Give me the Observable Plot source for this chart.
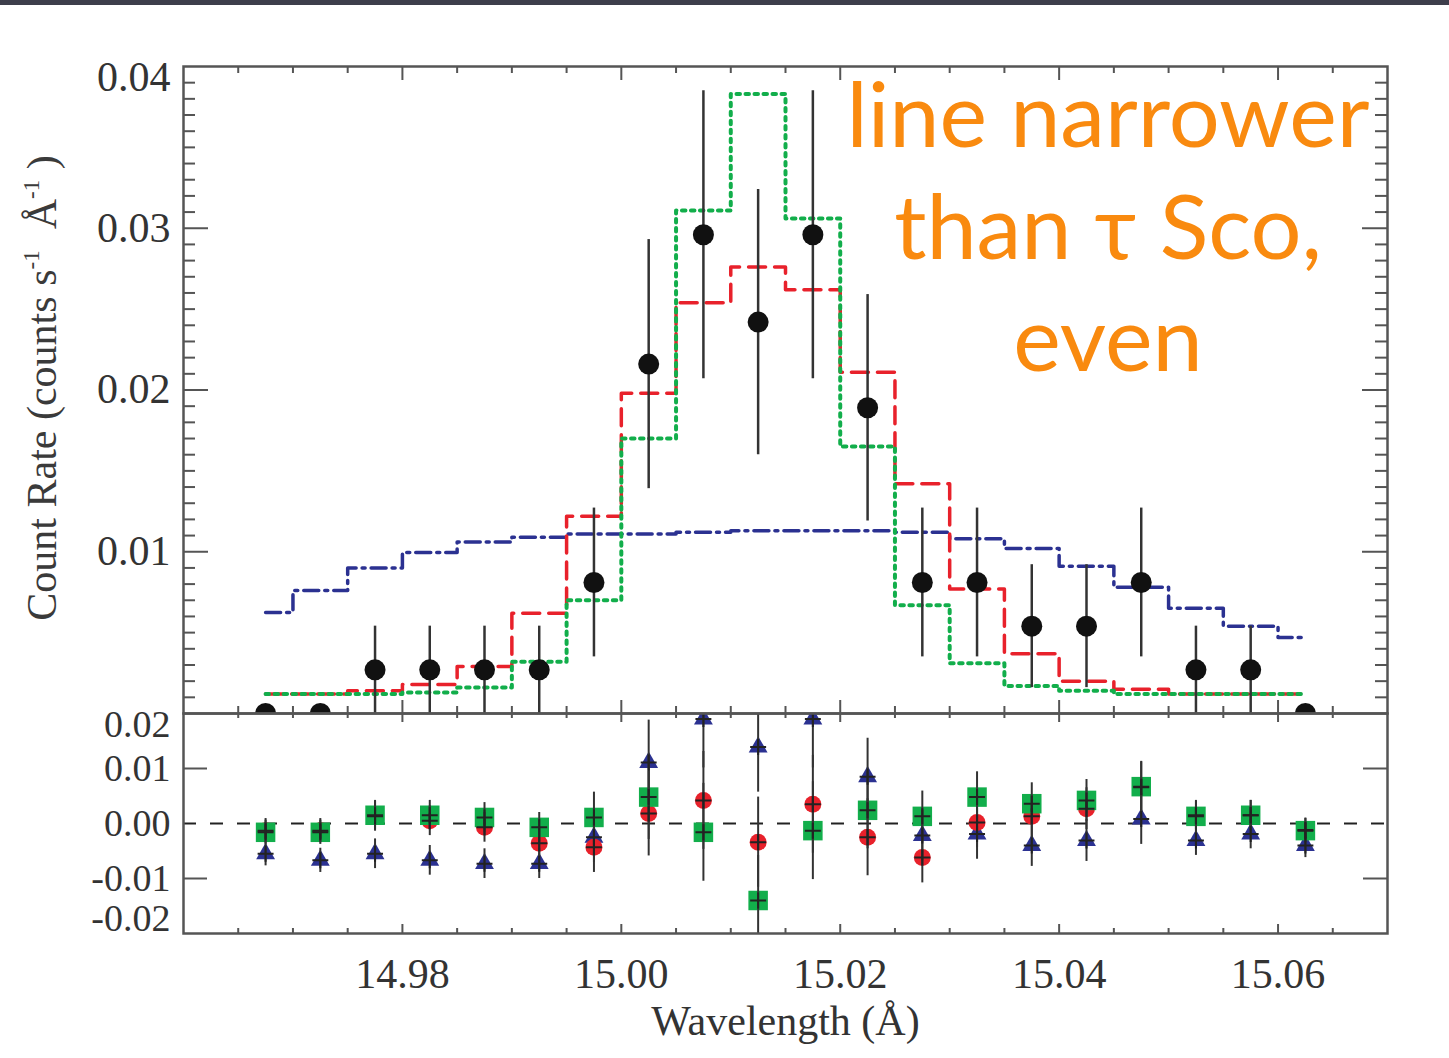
<!DOCTYPE html>
<html>
<head>
<meta charset="utf-8">
<script src="https://cdn.jsdelivr.net/npm/d3@7"></script>
<script src="https://cdn.jsdelivr.net/npm/@observablehq/plot@0.6"></script>
<style>
  body { margin: 0; background: #fff; }
  #wrap { position: relative; width: 1449px; height: 1058px; overflow: hidden; background: #fff; }
  #bar { position: absolute; left: 0; top: 0; width: 1449px; height: 5px; background: #3d3e4b; z-index: 5; }
  #top, #bot { position: absolute; left: 0; }
  #top { top: 0; }
  #bot { top: 700px; }
  #ylab { position: absolute; left: 42px; top: 388px; transform: translate(-50%, -50%) rotate(-90deg);
          white-space: nowrap; font-family: "Liberation Serif", serif; font-size: 42px; color: #3a3a3a; }
  #ylab sup { font-size: 23px; vertical-align: 17px; }
  #note { position: absolute; left: 838px; top: 56px; width: 540px; text-align: center;
          font-family: Lato, "Open Sans", sans-serif; font-size: 90px; line-height: 112px; color: #f98a0f; z-index: 4; }
</style>
</head>
<body>
<div id="wrap">
  <div id="bar"></div>
  <div id="top"></div>
  <div id="bot"></div>
  <div id="ylab">Count Rate (counts s<sup>-1</sup>&nbsp; Å<sup>-1</sup> )</div>
  <div id="note">line narrower<br>than τ Sco,<br>even</div>
</div>
<script>
// ---- data ----
const wavelength = [14.9675, 14.9725, 14.9775, 14.9825, 14.9875, 14.9925, 14.9975, 15.0025, 15.0075, 15.0125,
                    15.0175, 15.0225, 15.0275, 15.0325, 15.0375, 15.0425, 15.0475, 15.0525, 15.0575, 15.0625];
const countRate = [0, 0, 0.0027, 0.0027, 0.0027, 0.0027, 0.0081, 0.0216, 0.0296, 0.0242,
                   0.0296, 0.0189, 0.0081, 0.0081, 0.0054, 0.0054, 0.0081, 0.0027, 0.0027, 0];
const countErr = [0.0022, 0.0022, 0.0027, 0.0027, 0.0027, 0.0027, 0.0046, 0.0077, 0.0089, 0.0082,
                  0.0089, 0.0070, 0.0046, 0.0046, 0.0038, 0.0038, 0.0046, 0.0027, 0.0027, 0.0022];
const modelBlue = [0.00625, 0.0076, 0.0090, 0.00995, 0.0106, 0.0109, 0.0111, 0.0111, 0.0112, 0.0113,
                   0.0113, 0.0113, 0.0112, 0.0108, 0.0102, 0.0091, 0.0078, 0.0065, 0.0054, 0.0047];
const modelRed = [0.0012, 0.0012, 0.0014, 0.0018, 0.0029, 0.0062, 0.0122, 0.0198, 0.0254, 0.0276,
                  0.0262, 0.0211, 0.0142, 0.0077, 0.0037, 0.0020, 0.0015, 0.0012, 0.0012, 0.0012];
const modelGreen = [0.0012, 0.0012, 0.0012, 0.0013, 0.0016, 0.0032, 0.0070, 0.0170, 0.0311, 0.0383,
                    0.0306, 0.0165, 0.0067, 0.0031, 0.0017, 0.0014, 0.0012, 0.0012, 0.0012, 0.0012];
const residBlue = [-0.0055, -0.0067, -0.0055, -0.0067, -0.0073, -0.0073, -0.0025, 0.0111, 0.0190, 0.0139,
                   0.0190, 0.0085, -0.0022, -0.0019, -0.0040, -0.0031, 0.0008, -0.0031, -0.0019, -0.0040];
const residRed = [-0.0013, -0.0013, 0.0013, 0.0005, -0.0007, -0.0036, -0.0043, 0.0018, 0.0042, -0.0034,
                  0.0035, -0.0025, -0.0062, 0.0002, 0.0013, 0.0027, 0.0066, 0.0015, 0.0015, -0.0012];
const residGreen = [-0.0016, -0.0016, 0.0015, 0.0015, 0.0011, -0.0007, 0.0011, 0.0048, -0.0016, -0.0140,
                    -0.0013, 0.0024, 0.0013, 0.0048, 0.0036, 0.0042, 0.0067, 0.0013, 0.0015, -0.0013];

const xMajorTicks = [14.98, 15.00, 15.02, 15.04, 15.06];
const xMinorTicks = [14.965, 14.97, 14.975, 14.985, 14.99, 14.995, 15.005, 15.01, 15.015, 15.025,
                     15.03, 15.035, 15.045, 15.05, 15.055, 15.065];
const yTopMajor = [0.01, 0.02, 0.03];
const yTopLabels = [0.01, 0.02, 0.03];
const yTopEdgeLabel = [0.04];
const yResMajor = [0.01, -0.01];
const yResLabels = [0.01, 0.00, -0.01];
const yResTopLabel = [0.02];
const yResBottomLabel = [-0.02];
const xLabel = "Wavelength (Å)";

// ---- derived tables ----
const rows = wavelength.map((w, i) => ({w, c: countRate[i], e: countErr[i],
  blue: modelBlue[i], red: modelRed[i], green: modelGreen[i]}));
const yTopMinor = d3.range(1, 40).map(d => d / 1000).filter(d => Math.round(d * 1000) % 10 !== 0);
const res = (arr) => wavelength.map((w, i) => ({w, r: arr[i], e: countErr[i]}));
const resAll = [...res(residBlue), ...res(residRed), ...res(residGreen)];

const W = 1449, ML = 183, MR = 62;
const PW = W - ML - MR;
const xDomain = [14.96, 15.07];
const tickCol = "#555";
const font = {fontFamily: "'Liberation Serif', serif", fontSize: "42px", color: "#333", background: "transparent", overflow: "visible"};
const BLUE = "#2b3191", RED = "#e8212b", GREEN = "#12ae4b";

// ---- top panel ----
const TH = 720, TMT = 66, TMB = 7, TPH = TH - TMT - TMB;
const topPlot = Plot.plot({
  width: W, height: TH, marginLeft: ML, marginRight: MR, marginTop: TMT, marginBottom: TMB,
  style: font,
  x: {domain: xDomain, axis: null},
  y: {domain: [0, 0.04], axis: null},
  marks: [
    // ticks
    Plot.tickY(yTopMajor, {y: d => d, insetRight: PW - 25, stroke: tickCol, strokeWidth: 2}),
    Plot.tickY(yTopMajor, {y: d => d, insetLeft: PW - 25, stroke: tickCol, strokeWidth: 2}),
    Plot.tickY(yTopMinor, {y: d => d, insetRight: PW - 12, stroke: tickCol, strokeWidth: 2}),
    Plot.tickY(yTopMinor, {y: d => d, insetLeft: PW - 12, stroke: tickCol, strokeWidth: 2}),
    Plot.tickX(xMajorTicks, {x: d => d, insetBottom: TPH - 14, stroke: tickCol, strokeWidth: 2}),
    Plot.tickX(xMinorTicks, {x: d => d, insetBottom: TPH - 7, stroke: tickCol, strokeWidth: 2}),
    Plot.tickX(xMajorTicks, {x: d => d, insetTop: TPH - 13, stroke: tickCol, strokeWidth: 2}),
    Plot.tickX(xMinorTicks, {x: d => d, insetTop: TPH - 7, stroke: tickCol, strokeWidth: 2}),
    // models
    Plot.line(rows, {x: "w", y: "blue", curve: "step", stroke: BLUE, strokeWidth: 3.5, strokeDasharray: "15,6,3,6"}),
    Plot.line(rows, {x: "w", y: "red", curve: "step", stroke: RED, strokeWidth: 3.5, strokeDasharray: "17,9"}),
    Plot.line(rows, {x: "w", y: "green", curve: "step", stroke: GREEN, strokeWidth: 4, strokeDasharray: "3.5,5.5"}),
    // data
    Plot.ruleX(rows.filter(d => d.c > 0), {x: "w", y1: d => d.c - d.e, y2: d => d.c + d.e, stroke: "#333", strokeWidth: 2.5}),
    Plot.dot(rows, {x: "w", y: "c", r: 10.5, fill: "#111", stroke: "none", clip: true}),
    Plot.frame({stroke: tickCol, strokeWidth: 2.5}),
    // labels
    Plot.text(yTopLabels, {y: d => d, frameAnchor: "left", dx: -13, textAnchor: "end", text: d => d.toFixed(2)}),
    Plot.text(yTopEdgeLabel, {y: d => d, frameAnchor: "left", dx: -13, dy: 11, textAnchor: "end", text: d => d.toFixed(2)})
  ]
});
document.getElementById("top").appendChild(topPlot);

// ---- residual panel ----
const BH = 358, BMT = 13, BMB = 125, BPH = BH - BMT - BMB;
const fmt = d => (d < 0 ? "-" : "") + Math.abs(d).toFixed(2);
const botPlot = Plot.plot({
  width: W, height: BH, marginLeft: ML, marginRight: MR, marginTop: BMT, marginBottom: BMB,
  style: font,
  x: {domain: xDomain, axis: null},
  y: {domain: [-0.02, 0.02], axis: null},
  marks: [
    Plot.ruleY([0], {stroke: "#222", strokeWidth: 2, strokeDasharray: "13,14"}),
    Plot.tickY(yResMajor, {y: d => d, insetRight: PW - 24, stroke: tickCol, strokeWidth: 2}),
    Plot.tickY(yResMajor, {y: d => d, insetLeft: PW - 24, stroke: tickCol, strokeWidth: 2}),
    Plot.tickX(xMajorTicks, {x: d => d, insetBottom: BPH - 9, stroke: tickCol, strokeWidth: 2}),
    Plot.tickX(xMinorTicks, {x: d => d, insetBottom: BPH - 5, stroke: tickCol, strokeWidth: 2}),
    Plot.tickX(xMajorTicks, {x: d => d, insetTop: BPH - 9, stroke: tickCol, strokeWidth: 2}),
    Plot.tickX(xMinorTicks, {x: d => d, insetTop: BPH - 5, stroke: tickCol, strokeWidth: 2}),
    // markers
    Plot.dot(res(residBlue), {x: "w", y: "r", symbol: "triangle", r: 7, fill: BLUE, stroke: "none", clip: true}),
    Plot.dot(res(residRed), {x: "w", y: "r", symbol: "circle", r: 8.5, fill: RED, stroke: "none", clip: true}),
    Plot.dot(res(residGreen), {x: "w", y: "r", symbol: "square", r: 11, fill: GREEN, stroke: "none", clip: true}),
    // error bars
    Plot.ruleX(resAll, {x: "w", y1: d => d.r - d.e, y2: d => d.r + d.e, stroke: "#333", strokeWidth: 2, clip: true}),
    Plot.dot(resAll, {x: "w", y: "r", symbol: "plus", r: 5.2, stroke: "#222", strokeWidth: 2, clip: true}),
    Plot.frame({stroke: tickCol, strokeWidth: 2.5}),
    // labels
    Plot.text(yResLabels, {y: d => d, frameAnchor: "left", dx: -13, textAnchor: "end", fontSize: 38, text: fmt}),
    Plot.text(yResTopLabel, {y: d => d, frameAnchor: "left", dx: -13, dy: 11, textAnchor: "end", fontSize: 38, text: fmt}),
    Plot.text(yResBottomLabel, {y: d => d, frameAnchor: "left", dx: -13, dy: -15, textAnchor: "end", fontSize: 38, text: fmt}),
    Plot.text(xMajorTicks, {x: d => d, frameAnchor: "bottom", dy: 54, text: d => d.toFixed(2)}),
    Plot.text([xLabel], {frameAnchor: "bottom", dy: 101, text: d => d})
  ]
});
document.getElementById("bot").appendChild(botPlot);
</script>
</body>
</html>
